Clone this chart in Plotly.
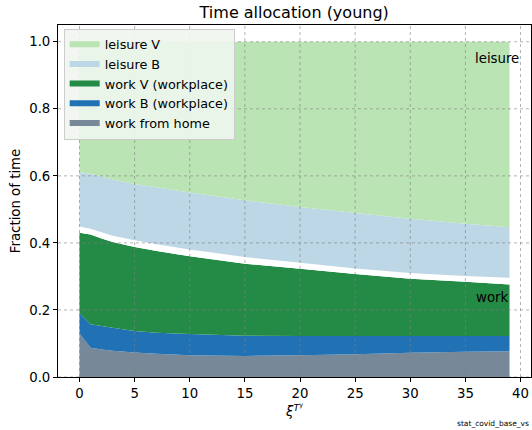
import plotly.graph_objects as go

# x positions (xi^{T^y}) at which values were read
xi = [0, 1, 2, 3, 5, 7, 10, 15, 20, 25, 30, 35, 39]

# stacked layer fractions (bottom to top)
work_home = [0.130, 0.087, 0.082, 0.078, 0.073, 0.069, 0.065, 0.063, 0.065, 0.068, 0.072, 0.075, 0.077]
work_B    = [0.061, 0.070, 0.070, 0.069, 0.064, 0.063, 0.063, 0.060, 0.057, 0.054, 0.050, 0.047, 0.045]
work_V    = [0.239, 0.268, 0.261, 0.256, 0.251, 0.244, 0.232, 0.215, 0.201, 0.185, 0.171, 0.162, 0.154]
gap       = [0.019, 0.017, 0.019, 0.018, 0.020, 0.020, 0.020, 0.020, 0.018, 0.017, 0.017, 0.017, 0.020]
leisure_B = [0.162, 0.164, 0.166, 0.168, 0.168, 0.170, 0.170, 0.169, 0.166, 0.165, 0.162, 0.156, 0.151]
leisure_V = [0.389, 0.394, 0.402, 0.409, 0.424, 0.434, 0.450, 0.473, 0.493, 0.511, 0.528, 0.543, 0.553]

x_ticks = [0, 5, 10, 15, 20, 25, 30, 35, 40]
y_ticks = [0.0, 0.2, 0.4, 0.6, 0.8, 1.0]

FONT = "DejaVu Sans"
FS = 13.3

layers = [
    ("work from home", work_home, "#778899", True),
    ("work B (workplace)", work_B, "#2171b5", True),
    ("work V (workplace)", work_V, "#238b45", True),
    ("gap", gap, "#ffffff", False),
    ("leisure B", leisure_B, "#bdd7e7", True),
    ("leisure V", leisure_V, "#bae4b3", True),
]

fig = go.Figure()
for name, vals, col, show in layers:
    fig.add_trace(go.Scatter(
        x=xi, y=vals, name=name, stackgroup="one", mode="none",
        fillcolor=col, line=dict(width=0), showlegend=show,
    ))

X_RANGE = [-1.95, 40.95]
Y_RANGE = [0, 1.05]

GRID = dict(color="rgba(128,128,128,0.6)", width=1, dash="dot")
shapes = []
for t in x_ticks:
    shapes.append(dict(type="line", xref="x", yref="paper", x0=t, x1=t, y0=0, y1=1,
                       line=GRID, layer="above"))
for t in y_ticks:
    shapes.append(dict(type="line", xref="paper", yref="y", x0=0, x1=1, y0=t, y1=t,
                       line=GRID, layer="above"))

fig.update_layout(
    width=532, height=430,
    margin=dict(l=58, r=1, t=25, b=53),
    paper_bgcolor="white", plot_bgcolor="white",
    font=dict(family=FONT, size=FS, color="black"),
    title=dict(text="Time allocation (young)", x=0.553, xanchor="center",
               y=0.972, yanchor="middle", font=dict(size=16, family=FONT)),
    xaxis=dict(range=X_RANGE, tickvals=x_ticks, showgrid=False, zeroline=False,
               ticks="outside", ticklen=4, tickcolor="black", showline=True,
               linecolor="black", linewidth=1, mirror=True,
               tickfont=dict(size=FS, family=FONT),
               title=dict(text="<i>ξ</i><sup><i>T</i><sup>y</sup></sup>",
                          font=dict(size=FS, family=FONT), standoff=4)),
    yaxis=dict(range=Y_RANGE, tickvals=y_ticks, tickformat=".1f", showgrid=False, zeroline=False,
               ticks="outside", ticklen=4, tickcolor="black", showline=True,
               linecolor="black", linewidth=1, mirror=True,
               tickfont=dict(size=FS, family=FONT),
               title=dict(text="Fraction of time", font=dict(size=FS, family=FONT), standoff=5)),
    legend=dict(x=0.012, y=0.99, xanchor="left", yanchor="top",
                traceorder="reversed", bgcolor="rgba(240,246,238,0.9)",
                bordercolor="#cccccc", borderwidth=1,
                font=dict(size=12.8, family=FONT), itemwidth=30),
    shapes=shapes,
    annotations=[
        dict(text="leisure", x=40.0, y=0.95, xref="x", yref="y", xanchor="right",
             yanchor="middle", showarrow=False, font=dict(size=FS, family=FONT)),
        dict(text="work", x=39.0, y=0.237, xref="x", yref="y", xanchor="right",
             yanchor="middle", showarrow=False, font=dict(size=FS, family=FONT)),
        dict(text="stat_covid_base_vs", x=1.0, y=0.0, xref="paper", yref="paper",
             xanchor="right", yanchor="top", yshift=-40, showarrow=False,
             font=dict(size=7.5, family=FONT)),
    ],
)

fig.write_html("out.html", config={"displayModeBar": False},
               post_script="document.body.style.margin='0px';")
